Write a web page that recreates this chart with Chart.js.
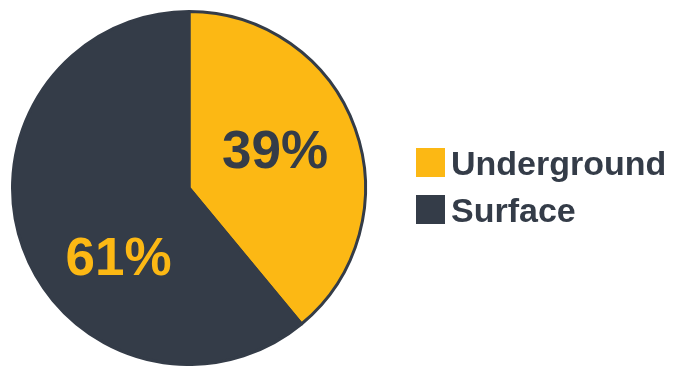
<!DOCTYPE html>
<html>
<head>
<meta charset="utf-8">
<script src="https://cdn.jsdelivr.net/npm/chart.js@4/dist/chart.umd.min.js"></script>
<style>
  html, body { margin: 0; padding: 0; background: #ffffff; overflow: hidden; }
  canvas { display: block; }
</style>
</head>
<body>
<canvas id="myChart" width="673" height="366"></canvas>
<script>
// share of mining by method
const categories = ["Underground", "Surface"];
const shares = [39, 61];
const sliceColors = ["#fcb814", "#343c48"];
const labelColors = ["#343c48", "#fcb814"];

// where each percent label sits: degrees clockwise from 12 o'clock, fraction of radius
const labelSpots = [{angle: 67, dist: 0.53}, {angle: 225, dist: 0.565}];

const FONT = "'Liberation Sans', Arial, sans-serif";

const percentLabels = {
    id: "percentLabels",
    afterDatasetsDraw(chart) {
        const ctx = chart.ctx;
        const arc = chart.getDatasetMeta(0).data[0];
        const cx = arc.x, cy = arc.y, r = arc.outerRadius;
        ctx.save();
        ctx.font = "bold 53px " + FONT;
        ctx.textAlign = "center";
        ctx.textBaseline = "middle";
        shares.forEach((v, i) => {
            const a = labelSpots[i].angle * Math.PI / 180;
            const d = labelSpots[i].dist * r;
            ctx.fillStyle = labelColors[i];
            ctx.fillText(v + "%", cx + d * Math.sin(a), cy - d * Math.cos(a) + 2);
        });
        ctx.restore();
    }
};

// legend drawn by hand so the swatch/text gap stays tight
const sideLegend = {
    id: "sideLegend",
    afterDraw(chart) {
        const ctx = chart.ctx;
        const x = 416, top = 148, box = 29, step = 47;
        ctx.save();
        ctx.font = "bold 34px " + FONT;
        ctx.textBaseline = "alphabetic";
        ctx.textAlign = "left";
        chart.data.labels.forEach((lab, i) => {
            const y = top + i * step;
            ctx.fillStyle = chart.data.datasets[0].backgroundColor[i];
            ctx.fillRect(x, y, box, box);
            ctx.fillStyle = "#343c48";
            ctx.fillText(lab, x + box + 6, y + 27);
        });
        ctx.restore();
    }
};

new Chart("myChart", {
    type: "pie",
    data: {
        labels: categories,
        datasets: [{
            data: shares,
            backgroundColor: sliceColors,
            borderColor: "#343c48",
            borderWidth: 3
        }]
    },
    options: {
        responsive: false,
        animation: false,
        layout: {
            padding: {left: 11, top: 10, right: 306, bottom: 0}
        },
        plugins: {
            legend: {display: false},
            tooltip: {enabled: false}
        }
    },
    plugins: [percentLabels, sideLegend]
});
</script>
</body>
</html>
